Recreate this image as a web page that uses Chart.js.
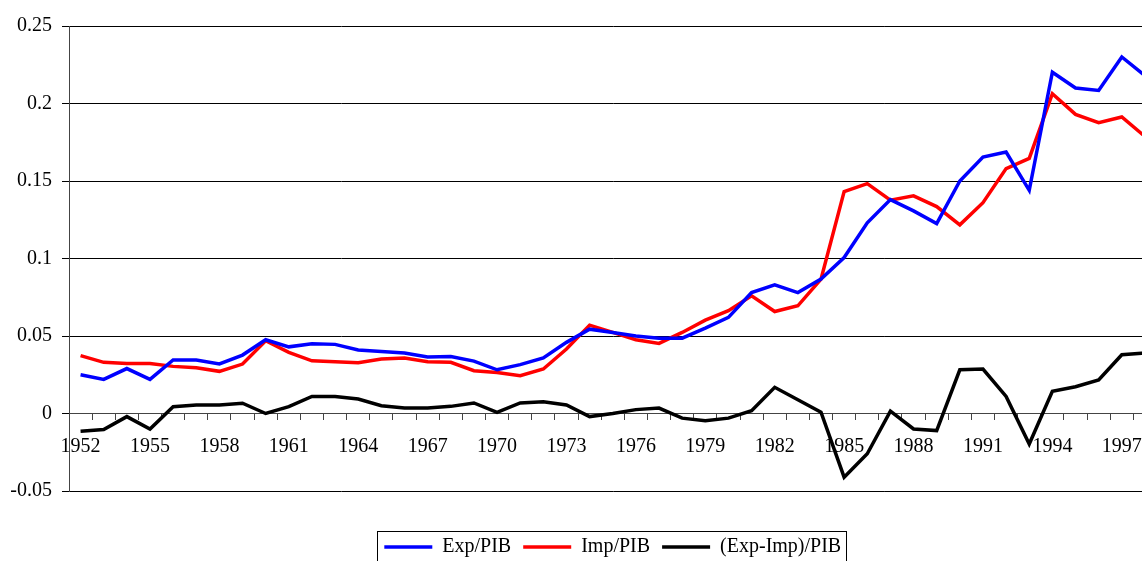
<!DOCTYPE html>
<html>
<head>
<meta charset="utf-8">
<script src="https://cdn.jsdelivr.net/npm/chart.js@4/dist/chart.umd.min.js"></script>
<style>
  html, body { margin: 0; padding: 0; background: #fff; overflow: hidden; }
  #wrap { position: relative; width: 1160px; height: 561px; }
</style>
</head>
<body>
<div id="wrap"><canvas id="chart-lines"></canvas></div>
<script>
const years = ['1952','1953','1954','1955','1956','1957','1958','1959','1960','1961',
               '1962','1963','1964','1965','1966','1967','1968','1969','1970','1971',
               '1972','1973','1974','1975','1976','1977','1978','1979','1980','1981',
               '1982','1983','1984','1985','1986','1987','1988','1989','1990','1991',
               '1992','1993','1994','1995','1996','1997','1998'];

const expPib = [0.025, 0.022, 0.029, 0.022, 0.0345, 0.0345, 0.032, 0.0377, 0.0476, 0.043,
                0.045, 0.0446, 0.041, 0.040, 0.039, 0.0364, 0.0368, 0.0338, 0.0282, 0.0315,
                0.0358, 0.0459, 0.0544, 0.0523, 0.0500, 0.0486, 0.0486, 0.0551, 0.062, 0.078,
                0.083, 0.078, 0.0867, 0.1006, 0.123, 0.138, 0.1307, 0.1225, 0.150, 0.1655,
                0.1687, 0.144, 0.2202, 0.210, 0.2084, 0.230, 0.218];

const impPib = [0.0373, 0.033, 0.0323, 0.0323, 0.0304, 0.0295, 0.0272, 0.0319, 0.0469, 0.0394,
                0.034, 0.0334, 0.0328, 0.0351, 0.0358, 0.0334, 0.033, 0.0276, 0.0265, 0.0244,
                0.0287, 0.0416, 0.057, 0.0523, 0.0476, 0.0452, 0.0523, 0.0602, 0.0663, 0.0759,
                0.0658, 0.0695, 0.0867, 0.1432, 0.1483, 0.1376, 0.1404, 0.1335, 0.1217, 0.136,
                0.158, 0.1646, 0.2063, 0.193, 0.1876, 0.1913, 0.1787];

const balPib = [-0.0115, -0.0104, -0.002, -0.010, 0.0044, 0.0055, 0.0055, 0.0066, 0.0, 0.0044,
                0.011, 0.011, 0.0093, 0.005, 0.0035, 0.0035, 0.0046, 0.0068, 0.0008, 0.0068,
                0.0076, 0.0055, -0.002, 0.0, 0.0025, 0.0035, -0.003, -0.0046, -0.003, 0.0018,
                0.0169, 0.0089, 0.0008, -0.0411, -0.026, 0.0015, -0.010, -0.011, 0.0282, 0.0287,
                0.011, -0.0197, 0.0143, 0.0173, 0.0216, 0.0379, 0.039];

const seriesNames = ['Exp/PIB', 'Imp/PIB', '(Exp-Imp)/PIB'];
const seriesColors = ['#0000ff', '#ff0000', '#000000'];

Chart.defaults.font.family = '"Liberation Serif", "Times New Roman", serif';
Chart.defaults.font.size = 20;
Chart.defaults.color = '#000';

// moves the legend down and draws the frame round it
const legendFrame = {
  id: 'legendFrame',
  afterLayout(chart) {
    const lg = chart.legend;
    lg.top += 34;
    lg.bottom += 34;
  },
  afterDraw(chart) {
    const lg = chart.legend;
    const pad = lg.options.labels.padding;
    const w = lg.lineWidths[0];
    const start = (lg.left + pad + lg.right - w) / 2;
    const ctx = chart.ctx;
    ctx.save();
    ctx.strokeStyle = '#000';
    ctx.lineWidth = 1;
    ctx.strokeRect(Math.round(start - 7) + 0.5, Math.round(lg.top + pad - 6) + 0.5, Math.round(w - pad + 12), 40);
    ctx.restore();
  }
};

window.onload = function(){

    let myChart = new Chart(
        document.getElementById('chart-lines'),
        {
            type: 'line',
            data: {
                labels: years,
                datasets: [expPib, impPib, balPib].map((vals, i) => ({
                    label: seriesNames[i],
                    data: vals,
                    borderColor: seriesColors[i],
                    backgroundColor: seriesColors[i],
                    borderWidth: 3.5,
                    pointRadius: 0,
                    tension: 0,
                    fill: false
                }))
            },
            options: {
                responsive: true,
                maintainAspectRatio: false,
                animation: false,
                devicePixelRatio: 1,
                layout: { padding: { top: 26, right: 3.5, bottom: 28, left: 0 } },
                scales: {
                    x: {
                        type: 'category',
                        position: { y: 0 },
                        offset: true,
                        grid: {
                            display: true,
                            offset: true,
                            drawOnChartArea: false,
                            drawTicks: true,
                            tickLength: 6,
                            color: '#444'
                        },
                        border: { display: true, color: '#444', width: 1 },
                        ticks: {
                            autoSkip: false,
                            maxRotation: 0,
                            padding: 15,
                            callback: (v, idx) => idx % 3 === 0 ? years[idx] : ''
                        }
                    },
                    y: {
                        min: -0.05,
                        max: 0.25,
                        afterFit: s => { s.width = 69; },
                        grid: {
                            color: '#000',
                            lineWidth: 1,
                            drawTicks: true,
                            tickLength: 7
                        },
                        border: { display: true, color: '#444', width: 1 },
                        ticks: {
                            stepSize: 0.05,
                            padding: 10,
                            callback: v => String(Math.round(v * 100) / 100)
                        }
                    }
                },
                plugins: {
                    tooltip: { enabled: false },
                    legend: {
                        position: 'bottom',
                        fullSize: false,
                        labels: {
                            usePointStyle: true,
                            pointStyle: 'line',
                            pointStyleWidth: 48,
                            padding: 12,
                            color: '#000',
                            font: { size: 20 }
                        }
                    }
                }
            },
            plugins: [legendFrame]
        }
    );
}
</script>
</body>
</html>
